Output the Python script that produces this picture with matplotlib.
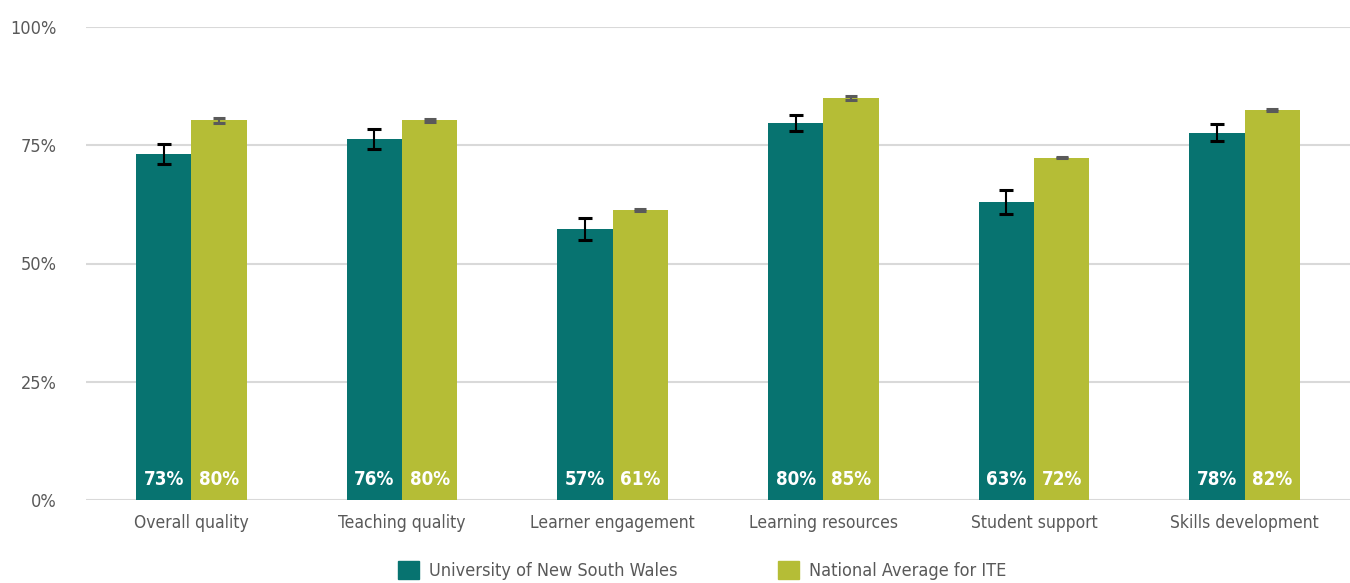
import matplotlib
matplotlib.use("Agg")
import matplotlib.pyplot as plt
import numpy as np
from matplotlib.patches import Patch

plt.rcParams['font.family'] = ['DejaVu Sans']
plt.rcParams['font.stretch'] = 'condensed'

categories = ["Overall quality", "Teaching quality", "Learner engagement",
              "Learning resources", "Student support", "Skills development"]
series_names = ["University of New South Wales", "National Average for ITE"]
unsw = [73.1, 76.4, 57.3, 79.8, 63.0, 77.6]
unsw_err = [2.1, 2.1, 2.35, 1.7, 2.55, 1.8]
national = [80.3, 80.3, 61.3, 85.0, 72.4, 82.4]
national_err = [0.5, 0.3, 0.3, 0.5, 0.2, 0.2]
yticks = [0, 25, 50, 75, 100]

teal = "#077370"
olive = "#b5bd36"
grey_txt = "#595959"

fig = plt.figure(figsize=(13.5, 5.83), dpi=100)
ax = fig.add_axes([86 / 1350, 1 - 500 / 583, 1 - 86 / 1350, (500 - 27) / 583])

x = np.arange(len(categories))
w = 0.262

ax.bar(x - w / 2, unsw, w, color=teal, zorder=3)
ax.bar(x + w / 2, national, w, color=olive, zorder=3)
ax.errorbar(x - w / 2, unsw, yerr=unsw_err, fmt="none", ecolor="black",
            elinewidth=1.5, capsize=5, capthick=2.2, zorder=4)
ax.errorbar(x + w / 2, national, yerr=national_err, fmt="none", ecolor="#5a5a5a",
            elinewidth=1.5, capsize=4.3, capthick=2.2, zorder=4)

# value labels sit at the foot of each bar
for xi, v in zip(x - w / 2, unsw):
    ax.text(xi, 4.4, f"{round(v)}%", ha="center", va="center", color="white",
            fontsize=13.5, fontweight="bold", zorder=5)
for xi, v in zip(x + w / 2, national):
    ax.text(xi, 4.4, f"{round(v)}%", ha="center", va="center", color="white",
            fontsize=13.5, fontweight="bold", zorder=5)

ax.set_xlim(-0.5, len(categories) - 0.5)
ax.set_ylim(0, 100)
ax.set_yticks(yticks)
ax.set_yticklabels([f"{t}%" for t in yticks])
ax.set_xticks(x)
ax.set_xticklabels(categories)
ax.tick_params(axis="both", length=0, colors=grey_txt)
ax.tick_params(axis="y", pad=21, labelsize=13)
ax.tick_params(axis="x", pad=10, labelsize=12.5)
ax.grid(axis="y", color="#d9d9d9", linewidth=1.5, zorder=0)
for s in ax.spines.values():
    s.set_visible(False)

handles = [Patch(color=teal), Patch(color=olive)]
fig.legend(handles, series_names, loc="upper center", bbox_to_anchor=(0.52, 0.066),
           ncol=2, frameon=False, fontsize=13, labelcolor=grey_txt,
           handlelength=1.15, handleheight=1.15, columnspacing=5.6, handletextpad=0.55)

fig.savefig("out.png", dpi=100)
